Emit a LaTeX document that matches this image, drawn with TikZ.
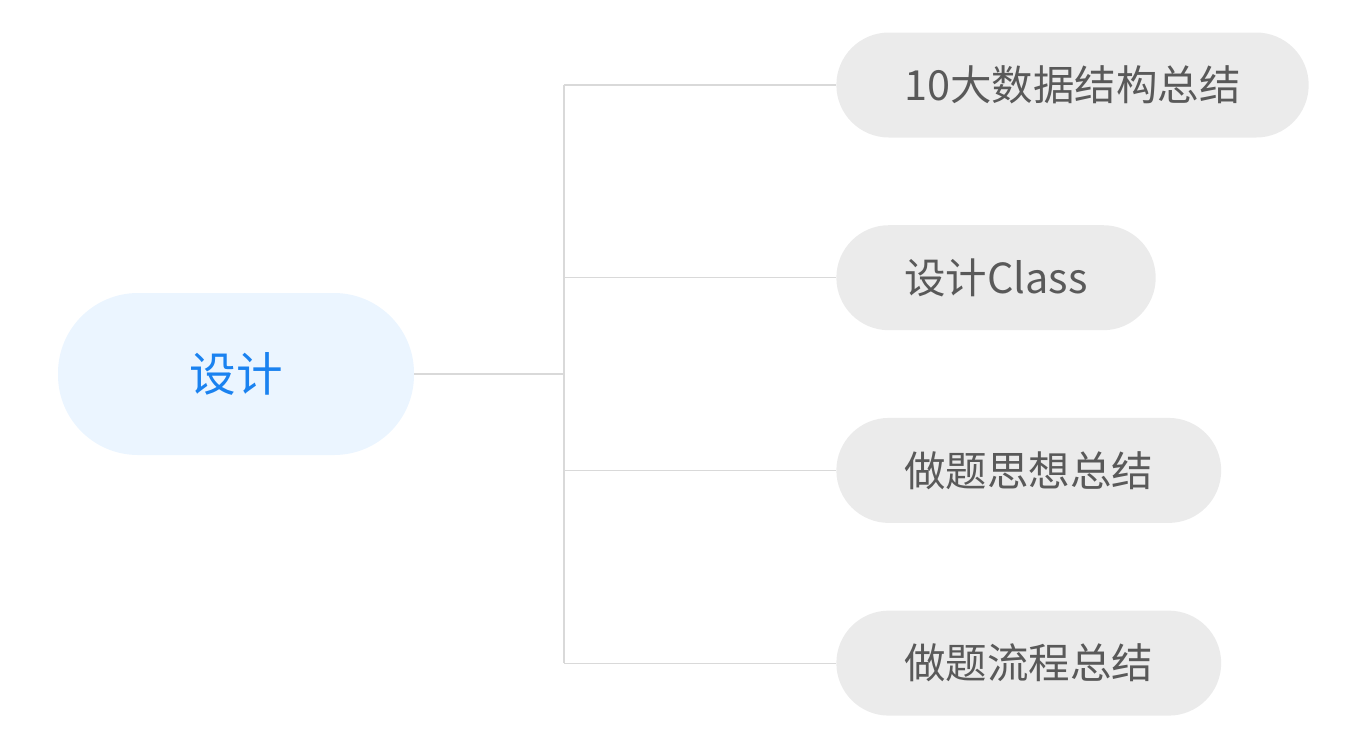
\documentclass[tikz,border=0pt]{standalone}
\usepackage{fontspec}
\newfontfamily\cjk{Noto Sans CJK SC}
\usepackage{tikz}
\usetikzlibrary{positioning}
\definecolor{rootfill}{HTML}{EBF5FF}
\definecolor{roottext}{HTML}{1A82F0}
\definecolor{leaffill}{HTML}{EBEBEB}
\definecolor{leaftext}{HTML}{595959}
\definecolor{linkgray}{HTML}{D9D9D9}

\begin{document}
\begin{tikzpicture}[node distance=1.74cm, thin]
    \tikzstyle{root}=[rectangle, rounded corners=1.6cm, fill=rootfill, text=roottext,
      minimum width=7.12cm, minimum height=3.24cm, font=\cjk\fontsize{26.5}{30}\selectfont]
    \tikzstyle{leaf}=[rectangle, rounded corners=1.05cm, fill=leaffill, text=leaftext,
      minimum height=2.1cm, inner xsep=1.36cm, font=\cjk\fontsize{23.6}{28}\selectfont]
    \tikzstyle{link}=[draw=linkgray, line width=0.6pt]

    \useasboundingbox (0,0) rectangle (27.28,-14.94);

    \node[root] (design) at (4.72,-7.48) {设计};
    \node[leaf, anchor=west] (structs) at (16.72,-1.70) {10大数据结构总结};
    \node[leaf] (classes) [below=1.74cm of structs.south west, anchor=north west] {设计Class};
    \node[leaf] (ideas) [below=1.74cm of classes.south west, anchor=north west] {做题思想总结};
    \node[leaf] (steps) [below=1.74cm of ideas.south west, anchor=north west] {做题流程总结};

    \coordinate (fork) at (11.28,-7.48);

    \path[link]
    (design.east) -- (fork)
    (fork |- structs.west) -- (fork |- steps.west)
    (fork |- structs.west) -- (structs.west)
    (fork |- classes.west) -- (classes.west)
    (fork |- ideas.west) -- (ideas.west)
    (fork |- steps.west) -- (steps.west);

\end{tikzpicture}
\end{document}
